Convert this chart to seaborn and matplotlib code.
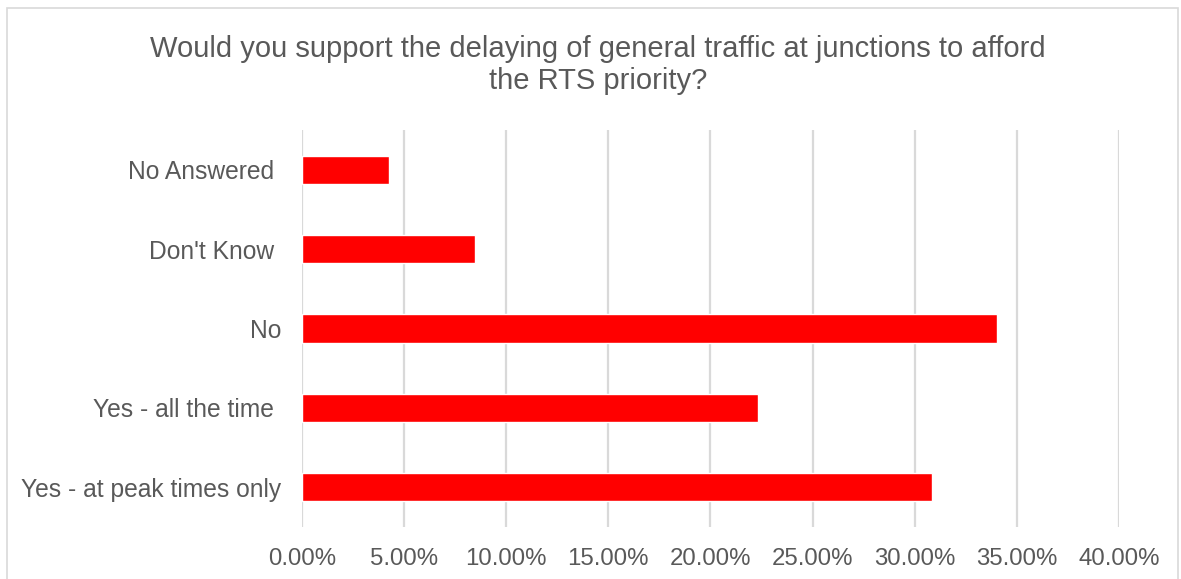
import matplotlib
matplotlib.use("Agg")
import matplotlib.pyplot as plt
import seaborn as sns
import pandas as pd
from matplotlib.patches import Rectangle
from matplotlib.ticker import FuncFormatter

# answers as they appear top to bottom (trailing spaces are in the source labels)
answers = ["No Answered ", "Don't Know ", "No", "Yes - all the time ", "Yes - at peak times only"]
shares = [0.0426, 0.0847, 0.3404, 0.2234, 0.3085]
x_ticks = [0.0, 0.05, 0.10, 0.15, 0.20, 0.25, 0.30, 0.35, 0.40]

title = "Would you support the delaying of general traffic at junctions to afford\nthe RTS priority?"

sns.set_theme(style="white")
plt.rcParams['font.family'] = ['Liberation Sans', 'DejaVu Sans']

text_grey = "#595959"
grid_grey = "#d9d9d9"

df = pd.DataFrame({"answer": answers, "share": shares})

fig = plt.figure(figsize=(11.81, 5.79), dpi=100)
ax = fig.add_axes([0.2557, 0.0898, 0.6918, 0.6857])

sns.barplot(data=df, x="share", y="answer", orient="h", color="#ff0000",
            saturation=1, width=0.355, ax=ax, zorder=3)

ax.set_xlim(0, 0.40)
ax.set_xticks(x_ticks)
ax.xaxis.set_major_formatter(FuncFormatter(lambda v, _: f"{v * 100:.2f}%"))
ax.set_xlabel("")
ax.set_ylabel("")

ax.grid(axis="x", color=grid_grey, linewidth=1.6, zorder=0)
ax.grid(axis="y", visible=False)
for s in ax.spines.values():
    s.set_visible(False)

ax.tick_params(axis="x", length=0, pad=15, labelsize=17.3, labelcolor=text_grey)
ax.tick_params(axis="y", length=0, pad=15, labelsize=17.7, labelcolor=text_grey)

fig.text(598 / 1181, 1 - 65 / 579, title, ha="center", va="center",
         fontsize=21, color=text_grey, linespacing=1.2)

# chart frame like the spreadsheet chart area
fig.patches.append(Rectangle((7 / 1181, -0.05), 1171 / 1181, 1.05 - 8 / 579,
                             transform=fig.transFigure, fill=False,
                             edgecolor=grid_grey, linewidth=1.2))

fig.savefig("out.png", dpi=100)
